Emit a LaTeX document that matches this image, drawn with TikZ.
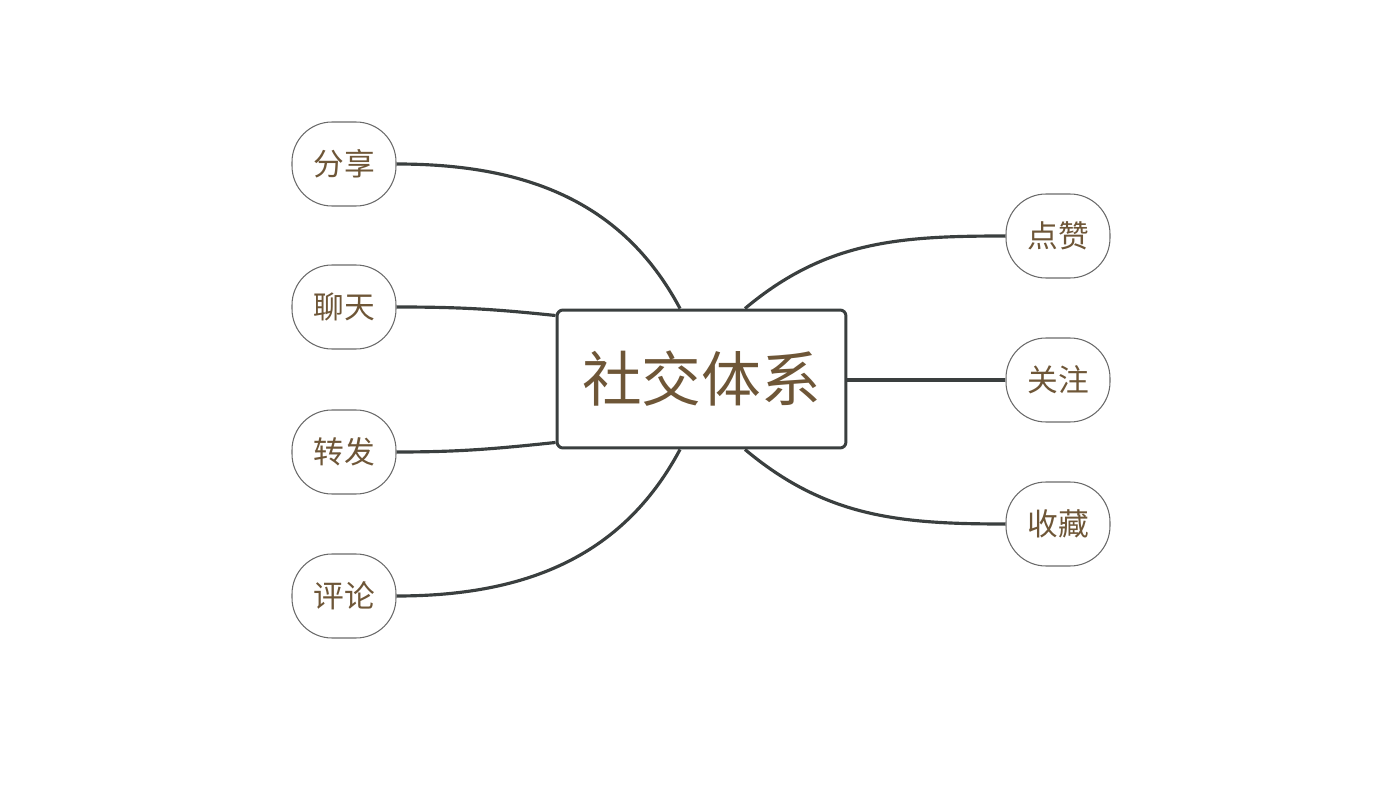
\documentclass[tikz,border=0pt]{standalone}
\usepackage{fontspec}
\setmainfont{Noto Sans CJK SC}
\usetikzlibrary{positioning}
\definecolor{txtbrown}{HTML}{6E5637}
\definecolor{linegray}{HTML}{3A3F3F}
\definecolor{leafgray}{HTML}{6A6A6A}

\begin{document}
\begin{tikzpicture}[x=0.02cm, y=-0.02cm,
        leaf/.style={draw=leafgray, line width=0.6pt, rounded corners=0.8cm, minimum width=2.08cm, minimum height=1.68cm, inner sep=0pt, text=txtbrown, font=\fontsize{17.5}{20}\selectfont},
        core/.style={draw=linegray, line width=1.7pt, rounded corners=0.12cm, minimum width=5.78cm, minimum height=2.76cm, inner sep=0pt, text=txtbrown, font=\fontsize{34}{40}\selectfont, fill=white},
        link/.style={draw=linegray, line width=1.8pt}]
        \useasboundingbox (0,0) rectangle (1400,800);

        \node[core] (sys) at (701.5,379) {社交体系};

        \node[leaf] (share) at (344,164) {分享};
        \node[leaf] (chat) at (344,307) {聊天};
        \node[leaf] (fwd) at (344,452) {转发};
        \node[leaf] (cmt) at (344,596) {评论};

        \node[leaf] (like) at (1058,236) {点赞};
        \node[leaf] (follow) at (1058,380) {关注};
        \node[leaf] (fav) at (1058,524) {收藏};

        \coordinate (sysNL) at ([xshift=-0.43cm]sys.north);
        \coordinate (sysNR) at ([xshift=0.87cm]sys.north);
        \coordinate (sysSL) at ([xshift=-0.43cm]sys.south);
        \coordinate (sysSR) at ([xshift=0.87cm]sys.south);
        \coordinate (sysWT) at ([yshift=-0.14cm]sys.north west);
        \coordinate (sysWB) at ([yshift=0.14cm]sys.south west);

        \draw[link] (share.east) to[out=0, in=118] (sysNL);
        \draw[link] (chat.east) to[out=0, in=174] (sysWT);
        \draw[link] (fwd.east) to[out=0, in=186] (sysWB);
        \draw[link] (cmt.east) to[out=0, in=-118] (sysSL);

        \draw[link] (like.west) to[out=180, in=40] (sysNR);
        \draw[link] (follow.west) -- (sys.east |- follow.west);
        \draw[link] (fav.west) to[out=180, in=-40] (sysSR);
    \end{tikzpicture}
\end{document}
